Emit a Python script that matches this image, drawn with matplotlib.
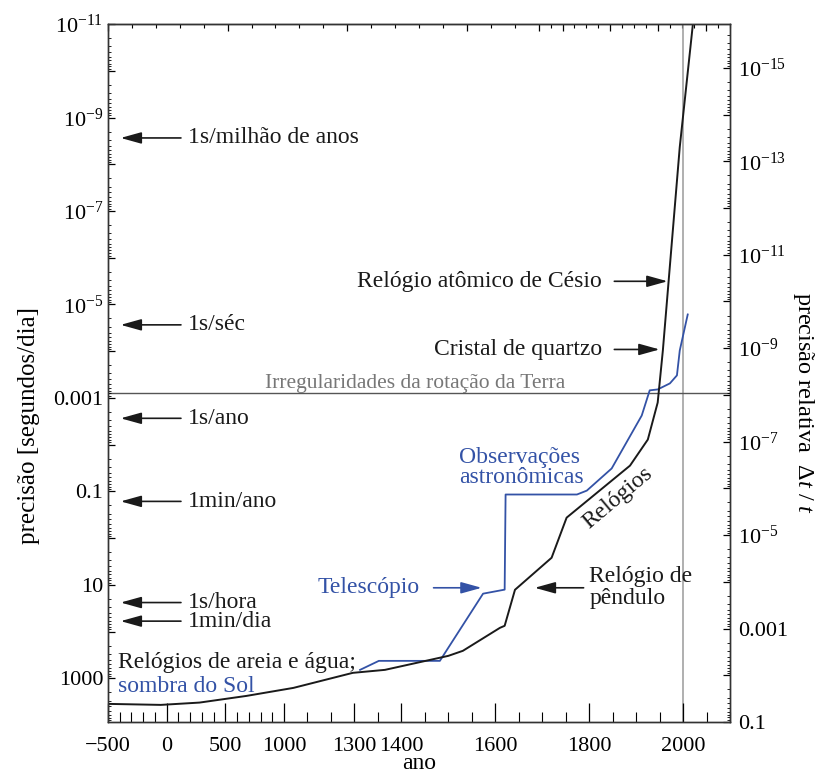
import numpy as np
import matplotlib
matplotlib.use("Agg")
from matplotlib import pyplot as plt
from matplotlib import ticker

plt.rcParams['font.family'] = ['Liberation Serif', 'DejaVu Serif']
plt.rcParams['mathtext.fontset'] = 'custom'
plt.rcParams['mathtext.rm'] = 'Liberation Serif'
plt.rcParams['mathtext.it'] = 'Liberation Serif:italic'
plt.rcParams['font.size'] = 17

# piecewise x axis: years -> stretched coordinate
year_breaks = [-500, 1000, 1300, 2100]
scale_factors = [1, 2, 4]

# clocks (black curve): year, precision in s/day
clock_years = [-500, -50, 280, 680, 1040, 1293, 1365, 1500, 1531, 1610, 1620,
               1642, 1720, 1752, 1887, 1925, 1946, 1957, 1993, 2021, 2030]
clock_prec = [3540, 3720, 3320, 2390, 1610, 767, 662, 332, 259, 83.4, 75.5,
              12.8, 2.64, 0.366, 0.0282, 0.0078, 0.00126, 9.7e-5, 4.3e-9,
              1e-11, 1.4e-12]

# astronomical observations (blue curve)
astro_years = [1312, 1352, 1482, 1574, 1620, 1622, 1774, 1795, 1848, 1912,
               1929, 1946, 1972, 1987, 1993, 2010]
astro_prec = [662, 425, 425, 15.5, 12.7, 0.117, 0.117, 0.0966, 0.0324,
              0.00239, 6.9e-4, 6.6e-4, 4.9e-4, 3.3e-4, 9.7e-5, 1.64e-5]

# reference rates on the left
ref_labels = ['1s/milhão de anos', '1s/séc', '1s/ano', '1min/ano', '1s/hora', '1min/dia']
ref_values = [1 / (1e6 * 365.25), 1 / 36525, 1 / 365.25, 60 / 365.25, 24, 60]

earth_rotation = 7.9e-4
seconds_per_day = 86400
ylim = (8640, 1e-11)
xlim = (-500, 2100)
left_decades = np.arange(-11, 4)
right_decades = np.arange(-15, 0)

major_years = [-500, 0, 500, 1000, 1300, 1400, 1600, 1800, 2000]
minor_years = sorted(set(list(range(-500, 1300, 100)) + list(range(1300, 2101, 50))) - set(major_years))

blue = '#3352a6'
ink = '#1a1a1a'
tick_fs = 16


def fwd(x):
    x = np.asarray(x, float)
    u1 = x - year_breaks[0]
    u2 = (year_breaks[1] - year_breaks[0]) + scale_factors[1] * (x - year_breaks[1])
    u3 = (year_breaks[1] - year_breaks[0]) + scale_factors[1] * (year_breaks[2] - year_breaks[1]) \
        + scale_factors[2] * (x - year_breaks[2])
    return np.where(x < year_breaks[1], u1, np.where(x < year_breaks[2], u2, u3))


def inv(u):
    u = np.asarray(u, float)
    b1 = year_breaks[1] - year_breaks[0]
    b2 = b1 + scale_factors[1] * (year_breaks[2] - year_breaks[1])
    return np.where(u < b1, u + year_breaks[0],
                    np.where(u < b2, year_breaks[1] + (u - b1) / scale_factors[1],
                             year_breaks[2] + (u - b2) / scale_factors[2]))


def log_label(v, pos):
    e = int(round(np.log10(v)))
    if e % 2 == 0:
        return ''
    if e >= 0:
        return '%d' % (10 ** e)
    if e >= -3:
        return ('%.' + str(-e) + 'f') % (10.0 ** e)
    return r'$10^{%d}$' % e


def minor_logs(decades):
    return [m * 10.0 ** d for d in decades for m in range(2, 10)]


fig = plt.figure(figsize=(8.18, 7.76), dpi=100)
ax = fig.add_axes([0.132, 0.0696, 0.7604, 0.8994])
ax.set_xscale('function', functions=(fwd, inv))
ax.set_yscale('log')
ax.set_xlim(*xlim)
ax.set_ylim(*ylim)

ax.axvline(2000, color='#9a9a9a', lw=1.1, zorder=1)
ax.axhline(earth_rotation, color='#555555', lw=1.0, zorder=1)
ax.text(837, 6.3e-4, 'Irregularidades da rotação da Terra', color='#777777',
        ha='left', va='baseline', fontsize=15.5)

ax.plot(clock_years, clock_prec, color=ink, lw=1.4, zorder=3)
ax.plot(astro_years, astro_prec, color=blue, lw=1.3, zorder=2)

arrow = dict(arrowstyle='-|>,head_length=0.9,head_width=0.25', color=ink, lw=1.2,
             shrinkA=3, shrinkB=0, mutation_scale=14)

for lab, val in zip(ref_labels, ref_values):
    ax.annotate(lab, xy=(-392, val), xytext=(181, val), ha='left', va='center',
                color=ink, arrowprops=arrow)

ax.annotate('Relógio atômico de Césio', xy=(1967, 3.2e-6), xytext=(1827, 3.2e-6),
            ha='right', va='center', color=ink, arrowprops=dict(arrow, shrinkA=7))
ax.annotate('Cristal de quartzo', xy=(1950, 9.2e-5), xytext=(1827, 9.2e-5),
            ha='right', va='center', color=ink, arrowprops=dict(arrow, shrinkA=7))
ax.annotate('Telescópio', xy=(1571, 11.6), xytext=(1439, 11.6),
            ha='right', va='center', color=blue,
            arrowprops=dict(arrow, shrinkA=8, color=blue))
ax.annotate('Relógio de\npêndulo', xy=(1684, 11.6), xytext=(1800, 11.6),
            ha='left', va='center', color=ink, linespacing=1.05,
            arrowprops=dict(arrow, shrinkA=2))
ax.text(1522, 0.031, 'Observações\nastronômicas', color=blue, ha='left',
        va='center', linespacing=0.95)
ax.text(1861, 0.136, 'Relógios', color=ink, rotation=40, ha='center',
        va='center', rotation_mode='anchor')
ax.text(-415, 468, 'Relógios de areia e água;', color=ink, ha='left', va='center')
ax.text(-415, 1530, 'sombra do Sol', color=blue, ha='left', va='center')

# x ticks
ax.set_xticks(major_years)
ax.set_xticklabels(['\u2212500' if y < 0 else str(y) for y in major_years], fontsize=tick_fs)
ax.set_xticks(minor_years, minor=True)
ax.tick_params(axis='x', which='major', direction='in', length=13.5, width=0.9, pad=11)
ax.tick_params(axis='x', which='minor', direction='in', length=7, width=0.8)

top = ax.secondary_xaxis('top', functions=(fwd, inv))
top.set_xticks(fwd(major_years))
top.set_xticks(fwd(minor_years), minor=True)
top.tick_params(which='major', direction='in', length=5, width=0.9, labeltop=False)
top.tick_params(which='minor', direction='in', length=3, width=0.8)

# left y ticks
ax.yaxis.set_major_locator(ticker.FixedLocator(10.0 ** left_decades))
ax.yaxis.set_minor_locator(ticker.FixedLocator(minor_logs(left_decades)))
ax.yaxis.set_major_formatter(ticker.FuncFormatter(log_label))
ax.yaxis.set_minor_formatter(ticker.NullFormatter())
ax.tick_params(axis='y', which='major', direction='in', length=5, width=0.9,
               right=False, labelsize=tick_fs)
ax.tick_params(axis='y', which='minor', direction='in', length=2.5, width=0.6, right=False)

# right axis: relative precision
ax2 = ax.twinx()
ax2.set_yscale('log')
ax2.set_ylim(ylim[0] / seconds_per_day, ylim[1] / seconds_per_day)
ax2.yaxis.set_major_locator(ticker.FixedLocator(10.0 ** right_decades))
ax2.yaxis.set_minor_locator(ticker.FixedLocator(minor_logs(np.arange(-16, 0))))
ax2.yaxis.set_major_formatter(ticker.FuncFormatter(log_label))
ax2.yaxis.set_minor_formatter(ticker.NullFormatter())
ax2.tick_params(axis='y', which='major', direction='in', length=5, width=0.9, pad=6,
                labelsize=tick_fs)
ax2.tick_params(axis='y', which='minor', direction='in', length=2.5, width=0.6)

for a in (ax, ax2):
    for s in a.spines.values():
        s.set_linewidth(1.0)
        s.set_color('#333333')

ax.set_xlabel('ano', labelpad=-2, fontsize=17)
ax.set_ylabel('precisão [segundos/dia]', labelpad=9, fontsize=18)
ax.yaxis.label.set_y(0.4255)
ax2.set_ylabel(r'precisão relativa  $\Delta\mathit{t}$ / $\mathit{t}$', rotation=270,
               labelpad=20, fontsize=17.5)
ax2.yaxis.label.set_y(0.457)

fig.savefig('out.png', dpi=100)
